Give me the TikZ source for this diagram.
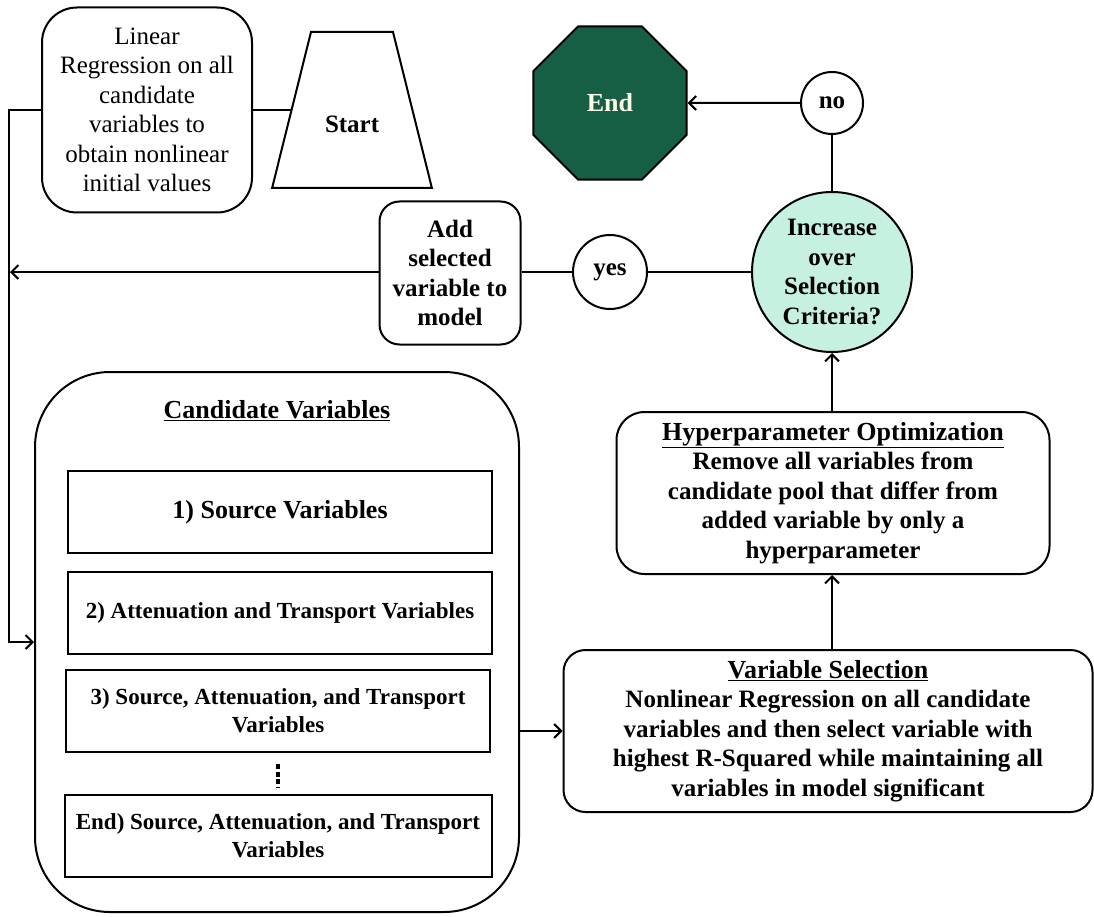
\documentclass[tikz,border=0pt]{standalone}
\usepackage{fontspec}
\setmainfont{Liberation Serif}
\usetikzlibrary{shapes.geometric,arrows.meta}

\definecolor{endgreen}{RGB}{22,94,68}
\definecolor{mint}{RGB}{198,240,224}

\tikzstyle{arrow} = [line width=2pt, -{Straight Barb[length=7pt,width=14pt]}]
\tikzstyle{line} = [line width=2pt]
\tikzstyle{rbox} = [draw, line width=2pt, rounded corners=28pt, align=center, font=\fontsize{25}{29.5}\selectfont\bfseries]
\tikzstyle{sbox} = [draw, line width=2pt, minimum width=424pt, minimum height=82pt, align=center, font=\fontsize{23}{28}\selectfont\bfseries]
\tikzstyle{ring} = [draw, circle, line width=2pt, inner sep=0pt, align=center, font=\fontsize{25}{29.5}\selectfont\bfseries]

\begin{document}
\begin{tikzpicture}[x=1pt,y=-1pt]
	\useasboundingbox (0,0) rectangle (1094,917);
	% top row
	\node (lin) [rbox, rounded corners=35pt, font=\fontsize{25}{29.5}\selectfont, minimum width=210pt, minimum height=205pt] at (147,110) {Linear\\Regression on all\\candidate\\variables to\\obtain nonlinear\\initial values};
	\node (start) [draw, line width=2pt, trapezium, trapezium left angle=76, trapezium right angle=76, text width=54pt, align=center, text height=101pt, text depth=55pt, inner ysep=0pt, inner xsep=14pt, font=\fontsize{25}{29.5}\selectfont\bfseries] at (352,110) {Start};
	\node (end) [draw, line width=2pt, regular polygon, regular polygon sides=8, minimum size=166pt, fill=endgreen, text=white!92!yellow, font=\fontsize{26}{30}\selectfont\bfseries] at (610,103) {End};
	\node (no) [ring, minimum size=62pt] at (832,103) {no};
	% decision row
	\node (dec) [ring, fill=mint, minimum size=160pt] at (832,272) {Increase\\over\\Selection\\Criteria?};
	\node (yes) [ring, minimum size=74pt] at (610,272) {yes};
	\node (add) [rbox, rounded corners=20pt, minimum width=141pt, minimum height=143pt] at (450,273) {Add\\selected\\variable to\\model};
	\coordinate (join) at (10,272);
	% candidate pool
	\node (cand) [draw, line width=2pt, rounded corners=75pt, minimum width=484pt, minimum height=540pt] at (277,642) {};
	\node (cvtitle) [font=\fontsize{26}{30}\selectfont\bfseries] at (277,411) {\underline{Candidate Variables}};
	\node (v1) [sbox, font=\fontsize{26}{30}\selectfont\bfseries] at (280,512) {1) Source Variables};
	\node (v2) [sbox] at (280,613) {2) Attenuation and Transport Variables};
	\node (v3) [sbox] at (278,711) {3) Source, Attenuation, and Transport\\Variables};
	\node (vend) [sbox, minimum width=427pt] at (278,836) {End) Source, Attenuation, and Transport\\Variables};
	\draw [line width=4pt, dash pattern=on 5pt off 2.5pt] ([yshift=-11pt]v3.south) -- ([yshift=6pt]vend.north);
	% right column
	\node (vs) [rbox, rounded corners=22pt, minimum width=529pt, minimum height=162pt] at (828,731) {{\fontsize{26}{30}\selectfont\underline{Variable Selection}}\\Nonlinear Regression on all candidate\\variables and then select variable with\\highest R-Squared while maintaining all\\variables in model significant};
	\node (hyp) [rbox, rounded corners=28pt, minimum width=433pt, minimum height=162pt] at (833,493) {{\fontsize{26}{30}\selectfont\underline{Hyperparameter Optimization}}\\Remove all variables from\\candidate pool that differ from\\added variable by only a\\hyperparameter};
	% connectors
	\draw [line] (lin.east) -- (start.west);
	\draw [arrow] (lin.west) -- ++(-32,0) |- (cand.west);
	\draw [arrow] (add.west |- join) -- (join);
	\draw [line] (add.east |- yes.west) -- (yes.west);
	\draw [line] (yes.east) -- (dec.west);
	\draw [line] (dec.north) -- (no.south);
	\draw [arrow] (no.west) -- (end.east);
	\draw [arrow] (vs.west -| cand.east) -- (vs.west);
	\draw [arrow] (vs.north -| dec.south) -- (hyp.south -| dec.south);
	\draw [arrow] (hyp.north -| dec.south) -- (dec.south);
\end{tikzpicture}
\end{document}
